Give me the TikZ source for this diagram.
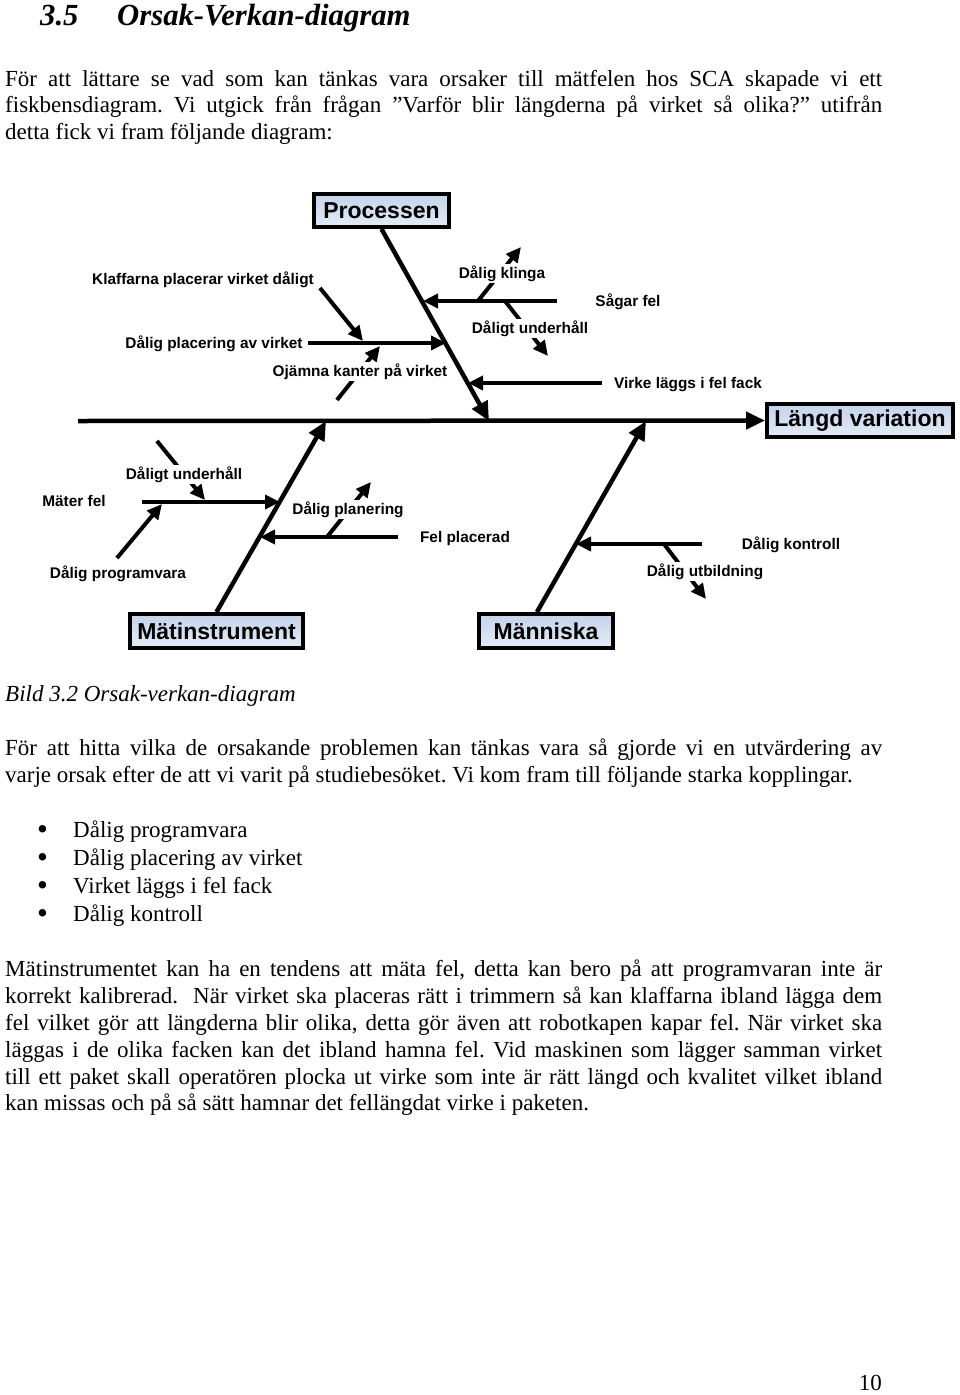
\documentclass[tikz,border=0pt]{standalone}
\usepackage{fontspec}
\setmainfont{Liberation Serif}
\newfontfamily\labelfont{Liberation Sans}
\usetikzlibrary{arrows.meta,backgrounds}
\definecolor{boxtop}{HTML}{C3D3EA}
\definecolor{boxbot}{HTML}{E3EBF6}
\frenchspacing
\begin{document}
\begin{tikzpicture}[x=1pt,y=-1pt,
  bodytext/.style={anchor=base west,inner sep=0pt,font=\fontsize{23}{26.5}\selectfont},
  bullettext/.style={anchor=base west,inner sep=0pt,font=\fontsize{31}{31}\selectfont},
  headtext/.style={anchor=base west,inner sep=0pt,font=\fontsize{30.7}{34}\selectfont\bfseries\itshape},
  catbox/.style={draw,line width=4pt,top color=boxtop,bottom color=boxbot,inner sep=0pt,font=\labelfont\bfseries\fontsize{23}{26}\selectfont},
  lbl/.style={anchor=base,fill=white,inner sep=1.5pt,font=\labelfont\bfseries\fontsize{15.4}{17}\selectfont},
  bone/.style={line width=4.5pt,-{Triangle[length=19pt,width=17pt]}},
  twig/.style={line width=4pt,-{Triangle[length=15pt,width=14pt]}}
]
\useasboundingbox (0,0) rectangle (960,1395);

% ---------- page text ----------
\node[headtext] (h1) at (40,25) {3.5};
\node[headtext] (h2) at (117,25) {Orsak-Verkan-diagram};

\node[bodytext] (p1a) at (5,86) {\makebox[877pt][s]{För att lättare se vad som kan tänkas vara orsaker till mätfelen hos SCA skapade vi ett}};
\node[bodytext] (p1b) at (5,112.5) {\makebox[877pt][s]{fiskbensdiagram. Vi utgick från frågan ”Varför blir längderna på virket så olika?” utifrån}};
\node[bodytext] (p1c) at (5,139) {detta fick vi fram följande diagram:};

\node[bodytext,font=\fontsize{23}{26.5}\selectfont\itshape] (cap) at (5,701) {Bild 3.2 Orsak-verkan-diagram};

\node[bodytext] (p2a) at (5,755) {\makebox[877pt][s]{För att hitta vilka de orsakande problemen kan tänkas vara så gjorde vi en utvärdering av}};
\node[bodytext] (p2b) at (5,782) {varje orsak efter de att vi varit på studiebesöket. Vi kom fram till följande starka kopplingar.};

\node[bullettext] (b1) at (37,839) {•};
\node[bodytext] (t1) at (73,837) {Dålig programvara};
\node[bullettext] (b2) at (37,867) {•};
\node[bodytext] (t2) at (73,865) {Dålig placering av virket};
\node[bullettext] (b3) at (37,895) {•};
\node[bodytext] (t3) at (73,893) {Virket läggs i fel fack};
\node[bullettext] (b4) at (37,923) {•};
\node[bodytext] (t4) at (73,921) {Dålig kontroll};

\node[bodytext] (p3a) at (5,976) {\makebox[877pt][s]{Mätinstrumentet kan ha en tendens att mäta fel, detta kan bero på att programvaran inte är}};
\node[bodytext] (p3b) at (5,1003) {\makebox[877pt][s]{korrekt kalibrerad.\ \ När virket ska placeras rätt i trimmern så kan klaffarna ibland lägga dem}};
\node[bodytext] (p3c) at (5,1030) {\makebox[877pt][s]{fel vilket gör att längderna blir olika, detta gör även att robotkapen kapar fel. När virket ska}};
\node[bodytext] (p3d) at (5,1057) {\makebox[877pt][s]{läggas i de olika facken kan det ibland hamna fel. Vid maskinen som lägger samman virket}};
\node[bodytext] (p3e) at (5,1084) {\makebox[877pt][s]{till ett paket skall operatören plocka ut virke som inte är rätt längd och kvalitet vilket ibland}};
\node[bodytext] (p3f) at (5,1110) {kan missas och på så sätt hamnar det fellängdat virke i paketen.};

\node[bodytext,anchor=base east] (pg) at (882,1390) {10};

% ---------- diagram: boxes ----------
\node[catbox,minimum width=135pt,minimum height=33pt] (P) at (381.5,210.5) {Processen};
\node[catbox,minimum width=186pt,minimum height=33pt] (L) at (860,420.5) {Längd variation};
\node[catbox,minimum width=173pt,minimum height=34pt] (M) at (216.5,631) {Mätinstrument};
\node[catbox,minimum width=134pt,minimum height=34pt] (H) at (546,631) {Människa};

\coordinate (tail) at (78,421);
\coordinate (pj) at (489,421);
\coordinate (mj) at (326,421);
\coordinate (hj) at (646,421);
\coordinate (hb) at (537,612);

% ---------- labels (upper) ----------
\node[lbl] (kl) at (203,284.5) {Klaffarna placerar virket dåligt};
\coordinate (kl1) at (320,288); \coordinate (kl2) at (363,341);
\node[lbl] (dp) at (214,348.5) {Dålig placering av virket};
\coordinate (dp1) at (308,343); \coordinate (dp2) at (446,343);
\node[lbl] (oj) at (360,376.5) {Ojämna kanter på virket};
\coordinate (oj1) at (337,400); \coordinate (oj2) at (380,346);
\node[lbl] (dk) at (502,278.5) {Dålig klinga};
\coordinate (dk1) at (478,301); \coordinate (dk2) at (521,247);
\node[lbl] (du) at (530,333.5) {Dåligt underhåll};
\coordinate (du1) at (505,301); \coordinate (du2) at (548,356);
\node[lbl] (sf) at (628,306.5) {Sågar fel};
\coordinate (sf1) at (557,301); \coordinate (sf2) at (423,301);
\node[lbl] (vl) at (688,388.5) {Virke läggs i fel fack};
\coordinate (vl1) at (602,383); \coordinate (vl2) at (468,383);

% ---------- labels (lower) ----------
\node[lbl] (mf) at (74,506.5) {Mäter fel};
\coordinate (mf1) at (142,502); \coordinate (mf2) at (280,502);
\node[lbl] (dul) at (184,479.5) {Dåligt underhåll};
\coordinate (dua) at (157,441); \coordinate (dub) at (205,500);
\node[lbl] (dpr) at (118,578.5) {Dålig programvara};
\coordinate (dpra) at (117,558); \coordinate (dprb) at (162,504);
\node[lbl] (fp) at (465,542.5) {Fel placerad};
\coordinate (fp1) at (398,537); \coordinate (fp2) at (260,537);
\node[lbl] (dpl) at (348,514.5) {Dålig planering};
\coordinate (dpla) at (327,537); \coordinate (dplb) at (371,482);
\node[lbl] (dko) at (791,549.5) {Dålig kontroll};
\coordinate (dko1) at (702,544); \coordinate (dko2) at (576,544);
\node[lbl] (dut) at (705,576.5) {Dålig utbildning};
\coordinate (duta) at (664,544); \coordinate (dutb) at (706,599);

% ---------- connectors ----------
\begin{pgfonlayer}{background}
  \draw[bone] (tail) -- (L.west);
  \draw[bone] (P.south) -- (pj);
  \draw[bone] (M.north) -- (mj);
  \draw[bone] (hb) -- (hj);

  \draw[twig] (kl1) -- (kl2);
  \draw[twig] (dp1) -- (dp2);
  \draw[twig] (oj1) -- (oj2);
  \draw[twig] (dk1) -- (dk2);
  \draw[twig] (du1) -- (du2);
  \draw[twig] (sf1) -- (sf2);
  \draw[twig] (vl1) -- (vl2);

  \draw[twig] (mf1) -- (mf2);
  \draw[twig] (dua) -- (dub);
  \draw[twig] (dpra) -- (dprb);
  \draw[twig] (fp1) -- (fp2);
  \draw[twig] (dpla) -- (dplb);
  \draw[twig] (dko1) -- (dko2);
  \draw[twig] (duta) -- (dutb);
\end{pgfonlayer}
\end{tikzpicture}
\end{document}
